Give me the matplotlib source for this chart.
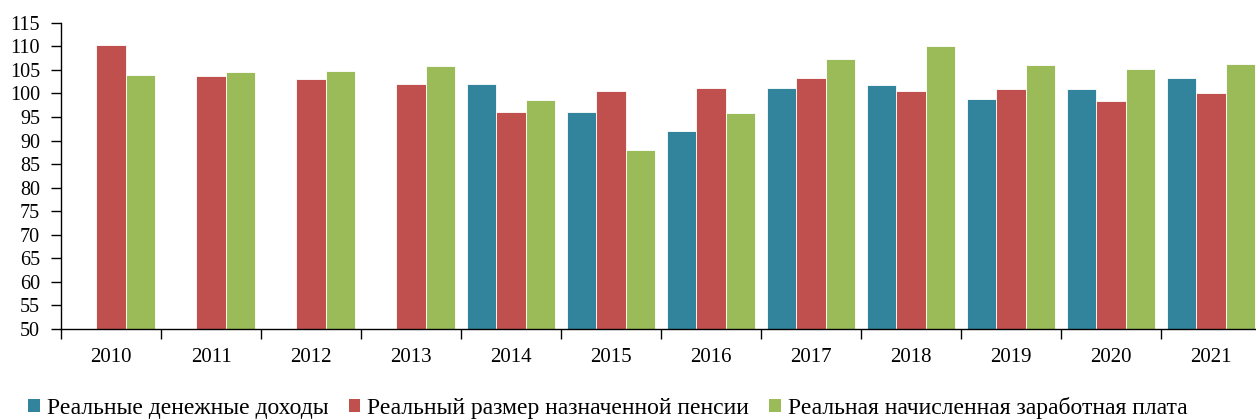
import numpy as np
import matplotlib
matplotlib.use("Agg")
import matplotlib.pyplot as plt
from matplotlib.patches import Patch

# -------------------------------------
# Data
# -------------------------------------
years = ["2010", "2011", "2012", "2013", "2014", "2015",
         "2016", "2017", "2018", "2019", "2020", "2021"]
income = [np.nan, np.nan, np.nan, np.nan, 101.9, 96.1,
          92.0, 101.1, 101.8, 98.8, 100.9, 103.3]
pension = [110.3, 103.7, 103.0, 102.0, 96.0, 100.6,
           101.1, 103.2, 100.5, 101.0, 98.4, 100.1]
wage = [103.8, 104.6, 104.8, 105.8, 98.5, 87.9,
        95.9, 107.4, 110.1, 106.0, 105.2, 106.2]

labels = ["Реальные денежные доходы",
          "Реальный размер назначенной пенсии",
          "Реальная начисленная заработная плата"]
colors = ["#31849B", "#C0504D", "#9BBB59"]
yticks = list(range(50, 116, 5))

# -------------------------------------
# Figure setup
# -------------------------------------
plt.rcParams["font.family"] = ["Liberation Serif", "DejaVu Serif"]
fig = plt.figure(figsize=(12.56, 4.19), dpi=100)
ax = fig.add_axes([61 / 1256, 1 - 329 / 419, 1200 / 1256, (329 - 22.7) / 419])

x = np.arange(len(years))
w = 0.295
for i, (vals, col) in enumerate(zip([income, pension, wage], colors)):
    ax.bar(x + (i - 1) * w, vals, width=w, color=col,
           edgecolor="white", linewidth=0.6, label=labels[i])

ax.set_ylim(50, 115)
ax.set_xlim(-0.5, len(years) - 0.5)
ax.set_yticks(yticks)
ax.set_yticklabels([str(v) for v in yticks], fontsize=14.5)
ax.tick_params(axis="y", direction="out", length=7, width=1, pad=8)

ax.set_xticks(x)
ax.set_xticklabels(years, fontsize=15)
ax.tick_params(axis="x", which="major", length=0, pad=14)
ax.set_xticks(np.arange(-0.5, len(years)), minor=True)
ax.tick_params(axis="x", which="minor", direction="out", length=7, width=1)

for s in ["top", "right"]:
    ax.spines[s].set_visible(False)
ax.spines["left"].set_linewidth(1)
ax.spines["bottom"].set_linewidth(1)

# -------------------------------------
# Legend below the plot
# -------------------------------------
handles = [Patch(facecolor=c, edgecolor="none") for c in colors]
fig.legend(handles, labels, loc="center left", bbox_to_anchor=(28 / 1256, 11 / 419),
           ncol=3, frameon=False, fontsize=17, handlelength=0.5,
           handleheight=0.5, handletextpad=0.3, columnspacing=0.85,
           borderaxespad=0, borderpad=0)

fig.savefig("out.png", dpi=100)
